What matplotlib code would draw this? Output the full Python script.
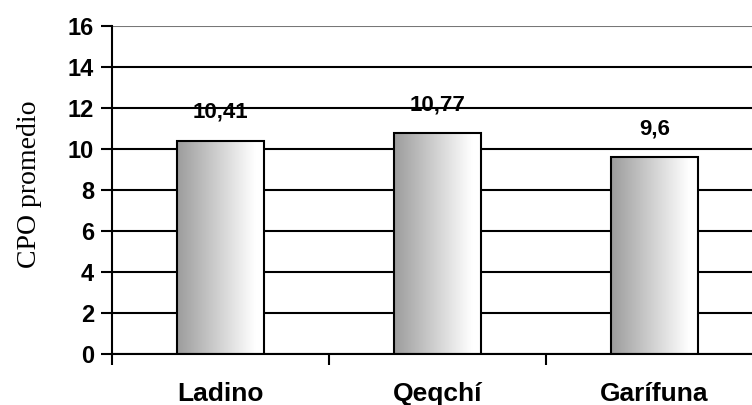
import numpy as np
import matplotlib.pyplot as plt
from matplotlib.colors import LinearSegmentedColormap

categorias = ['Ladino', 'Qeqchí', 'Garífuna']
cpo = [10.41, 10.77, 9.6]
etiquetas = ['10,41', '10,77', '9,6']

plt.rcParams['font.family'] = ['Liberation Sans', 'DejaVu Sans']

fig = plt.figure(figsize=(7.52, 4.05), dpi=100)
ax = fig.add_axes([112/752, 51/405, 651/752, 328/405])

x = np.arange(len(categorias))
ancho = 0.4
barras = ax.bar(x, cpo, width=ancho, color='none', edgecolor='black',
                linewidth=1.5, zorder=3)

# degradado gris -> blanco en cada barra
degr = LinearSegmentedColormap.from_list('g', [(0.0, '#9c9c9c'), (0.9, '#ffffff'), (1.0, '#ffffff')])
grad = np.linspace(0, 1, 256).reshape(1, -1)
for b in barras:
    x0, w, h = b.get_x(), b.get_width(), b.get_height()
    im = ax.imshow(grad, cmap=degr, aspect='auto', extent=[x0, x0 + w, 0, h],
                   zorder=2, interpolation='bilinear')
    im.set_clip_path(b)

for xi, v, t in zip(x, cpo, etiquetas):
    ax.annotate(t, (xi, v), xytext=(0, 13), textcoords='offset points',
                ha='center', va='bottom', fontsize=16, fontweight='bold')

ax.set_xlim(-0.5, 2.5)
ax.set_ylim(0, 16)
ax.set_yticks(range(0, 17, 2))
ax.yaxis.grid(True, color='black', linewidth=1.5, zorder=0)
ax.get_ygridlines()[-1].set_color('#777777')
ax.set_axisbelow(True)

ax.set_xticks([-0.5, 0.5, 1.5, 2.5])
ax.set_xticklabels([])
ax.set_xticks(x, minor=True)
ax.set_xticklabels(categorias, minor=True, fontsize=19, fontweight='bold')
ax.tick_params(axis='x', which='minor', length=0, pad=20)
ax.tick_params(axis='x', which='major', direction='out', length=8, width=1.5)
ax.tick_params(axis='y', direction='out', length=8, width=1.5, labelsize=17, pad=5)
for lab in ax.get_yticklabels():
    lab.set_fontweight('bold')

for s in ['top', 'right']:
    ax.spines[s].set_visible(False)
for s in ['left', 'bottom']:
    ax.spines[s].set_linewidth(1.5)

ax.set_ylabel('CPO promedio', fontsize=20, family=['Liberation Serif', 'DejaVu Serif'])
ax.yaxis.set_label_coords(-0.107, 0.518)

fig.savefig('out.png', dpi=100)
